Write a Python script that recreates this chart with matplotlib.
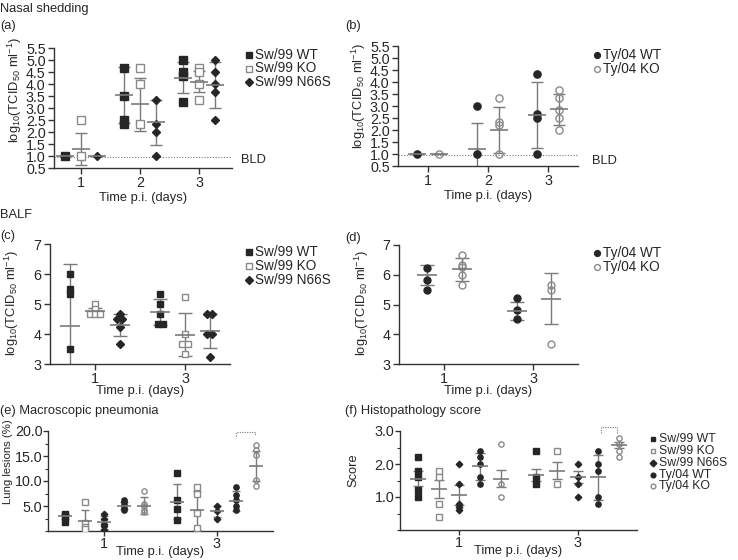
import matplotlib.pyplot as plt
from matplotlib.lines import Line2D
from matplotlib.ticker import MultipleLocator
from collections import Counter

plt.rcParams['font.family'] = ['Liberation Sans', 'DejaVu Sans']
plt.rcParams['mathtext.fontset'] = 'custom'
plt.rcParams['mathtext.rm'] = 'Liberation Sans'
plt.rcParams['mathtext.default'] = 'regular'

# ---- data ----
# (a) nasal shedding, Sw/99 viruses, days 1-3
days_abc = [1, 2, 3]
a_sw_wt = [[1.0], [4.67, 3.5, 2.5, 2.33], [5.0, 4.5, 4.33, 3.25]]
a_sw_wt_mean = [1.0, 3.55, 4.27]
a_sw_wt_sd = [0.0, 1.17, 0.63]
a_sw_ko = [[2.5, 1.0], [4.67, 4.0, 2.33], [4.67, 4.5, 4.0, 3.33]]
a_sw_ko_mean = [1.3, 3.15, 4.1]
a_sw_ko_sd = [0.67, 1.1, 0.43]
a_sw_n66s = [[1.0], [3.33, 2.33, 2.0, 1.0], [5.0, 4.5, 4.0, 3.67, 2.5]]
a_sw_n66s_mean = [1.0, 2.4, 3.95]
a_sw_n66s_sd = [0.0, 0.95, 0.95]

# (b) nasal shedding, Ty/04 viruses
b_ty_wt = [[1.0], [3.0, 1.0], [4.33, 2.67, 2.5, 1.0]]
b_ty_wt_mean = [1.0, 1.2, 2.63]
b_ty_wt_sd = [0.0, 1.1, 1.37]
b_ty_ko = [[1.0], [3.33, 2.33, 2.2, 1.0], [3.67, 3.33, 2.83, 2.5, 2.0]]
b_ty_ko_mean = [1.0, 2.0, 2.86]
b_ty_ko_sd = [0.0, 0.97, 0.66]
bld = 0.97

# (c) BALF, Sw/99 viruses, days 1 and 3
days_cd = [1, 3]
c_sw_wt = [[6.0, 5.5, 5.33, 3.5], [5.33, 5.0, 4.67, 4.33, 4.33]]
c_sw_wt_mean = [4.28, 4.73]
c_sw_wt_sd = [2.05, 0.43]
c_sw_ko = [[5.0, 4.83, 4.67, 4.67, 4.67], [5.23, 4.0, 3.67, 3.67, 3.33]]
c_sw_ko_mean = [4.77, 3.98]
c_sw_ko_sd = [0.1, 0.72]
c_sw_n66s = [[4.67, 4.5, 4.5, 4.25, 3.67], [4.67, 4.67, 4.0, 4.0, 3.23]]
c_sw_n66s_mean = [4.3, 4.1]
c_sw_n66s_sd = [0.38, 0.58]

# (d) BALF, Ty/04 viruses
d_ty_wt = [[6.23, 5.83, 5.5], [5.21, 4.83, 4.5]]
d_ty_wt_mean = [6.0, 4.79]
d_ty_wt_sd = [0.33, 0.3]
d_ty_ko = [[6.67, 6.33, 6.25, 6.0, 5.67], [5.67, 5.5, 3.67]]
d_ty_ko_mean = [6.18, 5.19]
d_ty_ko_sd = [0.38, 0.86]

# (e) macroscopic pneumonia (% lung lesions)
e_sw_wt = [[3.5, 3.0, 1.8], [11.7, 6.3, 4.5, 2.3]]
e_sw_wt_mean = [3.0, 5.9]
e_sw_wt_sd = [0.5, 3.5]
e_sw_ko = [[5.9, 1.6, 0.9, 0.5], [8.8, 7.4, 3.7, 0.6]]
e_sw_ko_mean = [1.93, 4.2]
e_sw_ko_sd = [2.2, 3.9]
e_sw_n66s = [[3.5, 2.5, 1.5, 1.0, 0.3], [5.0, 4.0, 2.5]]
e_sw_n66s_mean = [1.8, 4.0]
e_sw_n66s_sd = [1.3, 1.1]
e_ty_wt = [[6.2, 5.8, 5.2, 4.7, 4.3], [8.8, 7.2, 6.2, 5.0, 4.3]]
e_ty_wt_mean = [5.1, 6.1]
e_ty_wt_sd = [0.7, 2.0]
e_ty_ko = [[8.0, 5.4, 5.0, 4.3, 3.8], [17.3, 16.3, 15.3, 10.3, 9.0]]
e_ty_ko_mean = [5.1, 13.0]
e_ty_ko_sd = [1.7, 3.0]

# (f) histopathology score
f_sw_wt = [[2.2, 1.8, 1.6, 1.2, 1.0], [2.4, 1.6, 1.4]]
f_sw_wt_mean = [1.56, 1.68]
f_sw_wt_sd = [0.22, 0.18]
f_sw_ko = [[1.8, 1.6, 0.8, 0.4], [2.4, 1.4]]
f_sw_ko_mean = [1.24, 1.8]
f_sw_ko_sd = [0.28, 0.25]
f_sw_n66s = [[2.0, 1.4, 0.8, 0.7, 0.6], [2.0, 1.6, 1.4, 1.0]]
f_sw_n66s_mean = [1.07, 1.6]
f_sw_n66s_sd = [0.3, 0.19]
f_ty_wt = [[2.4, 2.2, 2.0, 1.6, 1.4], [2.4, 2.0, 1.8, 1.0, 0.8]]
f_ty_wt_mean = [1.93, 1.6]
f_ty_wt_sd = [0.4, 0.68]
f_ty_ko = [[2.6, 1.4, 1.0], [2.8, 2.6, 2.4, 2.2]]
f_ty_ko_mean = [1.56, 2.58]
f_ty_ko_sd = [0.27, 0.1]

# ---- styling ----
W, H = 738, 560
dark = '#262626'
grey = '#7a7a7a'
ogrey = '#8a8a8a'

sq_f = dict(marker='s', mfc=dark, mec=dark)
sq_o = dict(marker='s', mfc='white', mec=ogrey, mew=1)
dia = dict(marker='D', mfc=dark, mec=dark)
ci_f = dict(marker='o', mfc=dark, mec=dark)
ci_o = dict(marker='o', mfc='none', mec=ogrey, mew=1)

fig = plt.figure(figsize=(W / 100, H / 100), dpi=100)


def px_axes(l, t, r, b):
    return fig.add_axes([l / W, 1 - b / H, (r - l) / W, (b - t) / H])


def style_axes(ax, pad=2, length=4):
    for s in ['top', 'right']:
        ax.spines[s].set_visible(False)
    for s in ['left', 'bottom']:
        ax.spines[s].set_color('#333333')
        ax.spines[s].set_linewidth(1)
    ax.tick_params(length=length, width=1, color='#333333', labelsize=10.3,
                   pad=pad, labelcolor=dark)
    ax.tick_params(which='minor', length=2.5, width=0.8, color='#333333')


def spread(x, vals, step):
    # put equal values side by side
    counts = Counter(vals)
    seen = Counter()
    xs = []
    for v in vals:
        n = counts[v]
        xs.append(x + (seen[v] - (n - 1) / 2) * step)
        seen[v] += 1
    return xs


def draw_series(ax, days, off, pts, mean, sd, mstyle, ms, cap, mw, step=0.0):
    for d, p, m, s in zip(days, pts, mean, sd):
        x = d + off
        ax.errorbar(x, m, yerr=s, fmt='none', ecolor=grey, elinewidth=1,
                    capsize=cap, capthick=1, zorder=2)
        ax.plot(spread(x, p, step), p, ls='none', ms=ms, zorder=3, **mstyle)
        ax.plot([x], [m], marker='_', ms=mw, mew=1.2, color=grey, zorder=4)


def ylabel_at(ax, text, x, y, size=9.3):
    ax.set_ylabel(text, fontsize=size, color=dark, va='center')
    ax.yaxis.set_label_coords(x / W, 1 - y / H, transform=fig.transFigure)


def ftext(x, y, s, size=9.3):
    fig.text(x / W, 1 - y / H, s, fontsize=size, color=dark, va='center')


def legend_block(x, ys, entries, ms=4.2, size=9.8):
    for y, (label, st) in zip(ys, entries):
        fig.add_artist(Line2D([x / W], [1 - y / H], transform=fig.transFigure,
                              ls='none', ms=ms, **st))
        ftext(x + 6, y, label, size)


tcid = r'log$_{10}$(TCID$_{50}$ ml$^{-1}$)'
xlab = 'Time p.i. (days)'

# ---- (a) ----
ax = px_axes(54, 48, 232, 168)
style_axes(ax)
draw_series(ax, days_abc, -0.27, a_sw_wt, a_sw_wt_mean, a_sw_wt_sd, sq_f, 5.2, 4, 13)
draw_series(ax, days_abc, 0.0, a_sw_ko, a_sw_ko_mean, a_sw_ko_sd, sq_o, 5.2, 4, 13)
draw_series(ax, days_abc, 0.27, a_sw_n66s, a_sw_n66s_mean, a_sw_n66s_sd, dia, 4.2, 4, 13)
ax.axhline(bld, ls=(0, (1, 1.5)), color=grey, lw=0.8, zorder=1)
ax.set_xlim(0.55, 3.55)
ax.set_ylim(0.5, 5.5)
ax.set_yticks([0.5 + 0.5 * i for i in range(11)])
ax.set_xticks(days_abc)
ax.set_xlabel(xlab, fontsize=9.3, color=dark, labelpad=1)
ylabel_at(ax, tcid, 15, 90)

# ---- (b) ----
ax = px_axes(398, 46, 578, 166)
style_axes(ax)
draw_series(ax, days_abc, -0.19, b_ty_wt, b_ty_wt_mean, b_ty_wt_sd, ci_f, 5.2, 4, 13)
draw_series(ax, days_abc, 0.19, b_ty_ko, b_ty_ko_mean, b_ty_ko_sd, ci_o, 5.2, 4, 13)
ax.axhline(bld, ls=(0, (1, 1.5)), color=grey, lw=0.8, zorder=1)
ax.set_xlim(0.5, 3.5)
ax.set_ylim(0.5, 5.5)
ax.set_yticks([0.5 + 0.5 * i for i in range(11)])
ax.set_xticks(days_abc)
ax.set_xlabel(xlab, fontsize=9.3, color=dark, labelpad=1)
ylabel_at(ax, tcid, 359, 96)

# ---- (c) ----
ax = px_axes(50, 244, 230, 364)
style_axes(ax)
draw_series(ax, days_cd, -0.55, c_sw_wt, c_sw_wt_mean, c_sw_wt_sd, sq_f, 5.0, 5, 14, 0.12)
draw_series(ax, days_cd, 0.0, c_sw_ko, c_sw_ko_mean, c_sw_ko_sd, sq_o, 5.0, 5, 14, 0.12)
draw_series(ax, days_cd, 0.55, c_sw_n66s, c_sw_n66s_mean, c_sw_n66s_sd, dia, 4.2, 5, 14, 0.12)
ax.set_xlim(0, 4)
ax.set_ylim(3, 7)
ax.set_yticks([3, 4, 5, 6, 7])
ax.set_xticks(days_cd)
ax.set_xlabel(xlab, fontsize=9.3, color=dark, labelpad=-1)
ylabel_at(ax, tcid, 12, 303)

# ---- (d) ----
ax = px_axes(399, 245, 578, 364)
style_axes(ax)
draw_series(ax, days_cd, -0.37, d_ty_wt, d_ty_wt_mean, d_ty_wt_sd, ci_f, 5.0, 5, 14, 0.12)
draw_series(ax, days_cd, 0.4, d_ty_ko, d_ty_ko_mean, d_ty_ko_sd, ci_o, 5.0, 5, 14, 0.12)
ax.set_xlim(0, 4)
ax.set_ylim(3, 7)
ax.set_yticks([3, 4, 5, 6, 7])
ax.set_xticks(days_cd)
ax.set_xlabel(xlab, fontsize=9.3, color=dark, labelpad=-1)
ylabel_at(ax, tcid, 362, 303)

# ---- (e) ----
offs5 = [-0.7, -0.35, 0.0, 0.35, 0.7]
ax = px_axes(48, 431, 273, 531)
style_axes(ax, pad=0.5, length=3.5)
e_sets = [(e_sw_wt, e_sw_wt_mean, e_sw_wt_sd, sq_f, 3.8),
          (e_sw_ko, e_sw_ko_mean, e_sw_ko_sd, sq_o, 3.8),
          (e_sw_n66s, e_sw_n66s_mean, e_sw_n66s_sd, dia, 3.3),
          (e_ty_wt, e_ty_wt_mean, e_ty_wt_sd, ci_f, 3.8),
          (e_ty_ko, e_ty_ko_mean, e_ty_ko_sd, ci_o, 3.8)]
for off, (p, m, s, st, ms) in zip(offs5, e_sets):
    draw_series(ax, days_cd, off, p, m, s, st, ms, 3, 10, 0.1)
ax.plot([3.35, 3.35, 3.68, 3.68], [19.0, 19.8, 19.8, 19.0], ls=(0, (1, 1.2)),
        color=grey, lw=0.8, clip_on=False)
ax.set_xlim(0, 4)
ax.set_ylim(0, 20)
ax.set_yticks([5, 10, 15, 20])
ax.set_yticklabels(['5.0', '10.0', '15.0', '20.0'])
ax.yaxis.set_minor_locator(MultipleLocator(2.5))
ax.set_xticks(days_cd)
ax.set_xlabel(xlab, fontsize=9.3, color=dark, labelpad=-3)
ylabel_at(ax, 'Lung lesions (%)', 8, 462, size=8.2)

# ---- (f) ----
ax = px_axes(400, 431, 637, 530)
style_axes(ax, pad=0.5, length=3.5)
f_sets = [(f_sw_wt, f_sw_wt_mean, f_sw_wt_sd, sq_f, 3.8),
          (f_sw_ko, f_sw_ko_mean, f_sw_ko_sd, sq_o, 3.8),
          (f_sw_n66s, f_sw_n66s_mean, f_sw_n66s_sd, dia, 3.3),
          (f_ty_wt, f_ty_wt_mean, f_ty_wt_sd, ci_f, 3.8),
          (f_ty_ko, f_ty_ko_mean, f_ty_ko_sd, ci_o, 3.8)]
for off, (p, m, s, st, ms) in zip(offs5, f_sets):
    draw_series(ax, days_cd, off, p, m, s, st, ms, 3.5, 12, 0.1)
ax.plot([3.39, 3.39, 3.66, 3.66], [2.95, 3.11, 3.11, 2.95], ls=(0, (1, 1.2)),
        color=grey, lw=0.8, clip_on=False)
ax.set_xlim(0, 4)
ax.set_ylim(0, 3)
ax.set_yticks([1, 2, 3])
ax.set_yticklabels(['1.0', '2.0', '3.0'])
ax.yaxis.set_minor_locator(MultipleLocator(0.5))
ax.set_xticks(days_cd)
ax.set_xlabel(xlab, fontsize=9.3, color=dark, labelpad=-3)
ylabel_at(ax, 'Score', 353, 470)

# ---- panel titles, BLD notes, legends ----
ftext(0, 9, 'Nasal shedding')
ftext(0, 26, '(a)')
ftext(345, 26, '(b)')
ftext(0, 215, 'BALF')
ftext(0, 236, '(c)')
ftext(345, 238, '(d)')
ftext(0, 411, '(e) Macroscopic pneumonia')
ftext(345, 411, '(f) Histopathology score')
ftext(241, 160, 'BLD')
ftext(592, 161, 'BLD')

sw3 = [('Sw/99 WT', sq_f), ('Sw/99 KO', sq_o), ('Sw/99 N66S', dia)]
ty2 = [('Ty/04 WT', ci_f), ('Ty/04 KO', ci_o)]
legend_block(249, [55, 68.5, 82], sw3)
legend_block(597, [55, 69], ty2)
legend_block(249, [252, 266, 280], sw3)
legend_block(597, [253, 267], ty2)
legend_block(653, [439, 451, 463, 475, 486], sw3 + ty2, ms=3.4, size=8.8)

fig.savefig('out.png', dpi=100)
